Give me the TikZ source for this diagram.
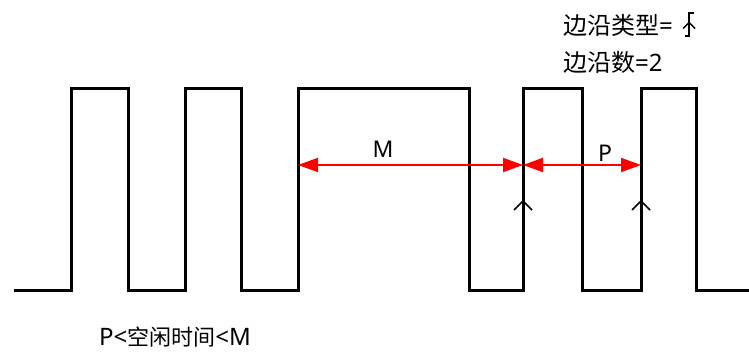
\documentclass[tikz,border=0pt]{standalone}
\usepackage{fontspec}
\setmainfont{Noto Sans}
\newfontfamily\cjk{Noto Sans CJK SC}
\usetikzlibrary{arrows.meta, positioning, calc}

\begin{document}
\begin{tikzpicture}[x=1pt, y=-1pt]
        \tikzstyle{wave} = [line width=3pt, black, line join=miter]
        \tikzstyle{dim} = [line width=2pt, red, {Triangle[length=20pt,width=14pt]}-{Triangle[length=20pt,width=14pt]}]
        \tikzstyle{edgemark} = [line width=1.6pt, black]
        \tikzstyle{toplabel} = [inner sep=0pt, anchor=base west, font=\fontsize{24}{28}\selectfont]
        \tikzstyle{botlabel} = [inner sep=0pt, anchor=base west, font=\fontsize{24}{28}\selectfont]
        \tikzstyle{dimlabel} = [inner sep=0pt, font=\fontsize{23}{27}\selectfont]

        \useasboundingbox (0,0) rectangle (749,352);

        % waveform
        \draw [wave] (14,291) -- (71,291) -- (71,89) -- (128,89) -- (128,291) -- (185,291) -- (185,89) -- (241,89) -- (241,291)
            -- (298,291) -- (298,89) -- (469,89) -- (469,291) -- (523,291) -- (523,89) -- (582,89) -- (582,291)
            -- (641,291) -- (641,89) -- (696,89) -- (696,291) -- (749,291);

        \coordinate (rise1) at (298,165);
        \coordinate (rise2) at (523,165);
        \coordinate (rise3) at (641,165);

        \draw [dim] (rise1) -- (rise2);
        \draw [dim] (rise2) -- (rise3);
        \node (mlabel) [dimlabel] at (383,149) {M};
        \node (plabel) [dimlabel] at (605,153) {P};

        % rising edge marks
        \draw [edgemark] ($(rise2)+(-9,45)$) -- ($(rise2)+(0,36)$) -- ($(rise2)+(9,45)$);
        \draw [edgemark] ($(rise3)+(-9,45)$) -- ($(rise3)+(0,36)$) -- ($(rise3)+(9,45)$);

        \node (etype) [toplabel] at (563,34.5) {{\cjk\fontsize{24}{28}\selectfont 边沿类型}=};
        \node (ecount) [toplabel] at (563,71.5) {{\cjk\fontsize{24}{28}\selectfont 边沿数}=2};
        \node (idle) [botlabel] at (99,345) {P<{\cjk\fontsize{22}{26}\selectfont 空闲时间}<M};

        % edge type symbol
        \coordinate (sym) at ($(etype.base east)+(16,-10)$);
        \draw [line width=1.3pt] ($(sym)+(-4,11.5)$) -- ($(sym)+(0,11.5)$) -- ($(sym)+(0,-11.5)$) -- ($(sym)+(5,-11.5)$);
        \draw [line width=1.3pt] ($(sym)+(-6,4)$) -- ($(sym)+(0,-2)$) -- ($(sym)+(6,4)$);
    \end{tikzpicture}
\end{document}
